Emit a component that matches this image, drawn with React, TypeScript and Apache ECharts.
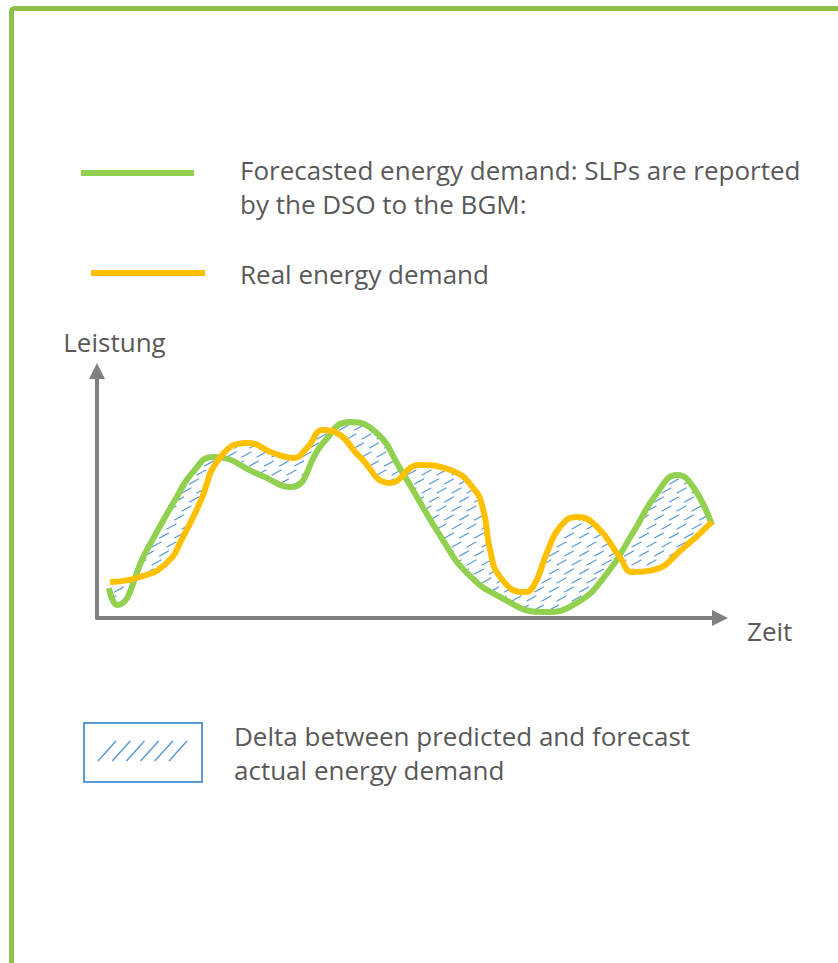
import React, { useEffect, useRef } from "react";
import * as echarts from "echarts";

// ---- data ----
// x: time (0..100), y: power (0..100)
const forecastDemand: [number, number][] = [
  [1.9, 12.1], [3.2, 5.3], [8.0, 27.5], [12.8, 49.0], [15.4, 59.1], [18.6, 65.2],
  [26.2, 57.9], [31.0, 53.0], [36.3, 70.9], [40.6, 79.4], [44.9, 74.9], [48.6, 60.7],
  [55.5, 31.6], [59.4, 18.2], [64.7, 8.5], [71.6, 2.4], [77.0, 6.1], [81.9, 18.2],
  [86.0, 34.4], [89.9, 50.6], [93.1, 57.9], [95.7, 53.0], [98.7, 37.7],
];
const realDemand: [number, number][] = [
  [2.1, 14.6], [6.9, 16.6], [11.2, 22.3], [13.8, 32.8], [16.5, 46.6], [19.7, 64.8],
  [24.1, 70.9], [28.3, 66.8], [31.5, 64.8], [33.7, 68.8], [36.3, 76.1], [38.5, 74.9],
  [42.2, 65.2], [47.0, 54.7], [51.8, 61.9], [56.7, 59.9], [60.4, 52.6], [62.0, 43.7],
  [63.1, 27.5], [64.7, 16.6], [68.4, 10.5], [70.0, 12.6], [72.2, 26.3], [74.3, 36.8],
  [77.0, 40.9], [80.3, 36.8], [83.9, 24.7], [86.0, 18.6], [89.2, 19.4], [94.1, 28.3],
  [98.7, 38.9],
];
const forecastLabel = ["Forecasted energy demand: SLPs are reported", "by the DSO to the BGM:"];
const realLabel = ["Real energy demand"];
const deltaLabel = ["Delta between predicted and forecast", "actual energy demand"];
const xAxisName = "Zeit";
const yAxisName = "Leistung";

const GREEN = "#92D050";
const ORANGE = "#FFC000";
const BLUE = "#5B9BD5";
const GRAY_AXIS = "#808080";
const TEXT = "#595959";
const FONT = "Open Sans";
const SMOOTH = 0.5;

// Same smoothing as ECharts line series (poly.ts), returns cubic segments
function smoothSegments(pts: number[][], smooth: number): number[][] {
  const segs: number[][] = [];
  let prevX = 0, prevY = 0, cpx0 = 0, cpy0 = 0;
  const n = pts.length;
  for (let k = 0; k < n; k++) {
    const x = pts[k][0];
    const y = pts[k][1];
    if (k === 0) {
      cpx0 = x; cpy0 = y;
    } else {
      let cpx1: number, cpy1: number;
      let nextCpx0 = x, nextCpy0 = y;
      if (k + 1 >= n) {
        cpx1 = x; cpy1 = y;
      } else {
        const nextX = pts[k + 1][0];
        const nextY = pts[k + 1][1];
        let vx = nextX - prevX;
        let vy = nextY - prevY;
        const lenPrev = Math.hypot(x - prevX, y - prevY);
        const lenNext = Math.hypot(nextX - x, nextY - y);
        const ratio = lenNext / (lenNext + lenPrev);
        nextCpx0 = x + vx * smooth * ratio;
        nextCpy0 = y + vy * smooth * ratio;
        nextCpx0 = Math.min(nextCpx0, Math.max(nextX, x));
        nextCpy0 = Math.min(nextCpy0, Math.max(nextY, y));
        nextCpx0 = Math.max(nextCpx0, Math.min(nextX, x));
        nextCpy0 = Math.max(nextCpy0, Math.min(nextY, y));
        vx = nextCpx0 - x; vy = nextCpy0 - y;
        cpx1 = x - vx * lenPrev / lenNext;
        cpy1 = y - vy * lenPrev / lenNext;
        cpx1 = Math.min(cpx1, Math.max(prevX, x));
        cpy1 = Math.min(cpy1, Math.max(prevY, y));
        cpx1 = Math.max(cpx1, Math.min(prevX, x));
        cpy1 = Math.max(cpy1, Math.min(prevY, y));
        vx = x - cpx1; vy = y - cpy1;
        nextCpx0 = x + vx * lenNext / lenPrev;
        nextCpy0 = y + vy * lenNext / lenPrev;
      }
      segs.push([prevX, prevY, cpx0, cpy0, cpx1, cpy1, x, y]);
      cpx0 = nextCpx0; cpy0 = nextCpy0;
    }
    prevX = x; prevY = y;
  }
  return segs;
}

const hatchSvg =
  "<svg xmlns='http://www.w3.org/2000/svg' width='15' height='18'>" +
  "<g stroke='" + BLUE + "' stroke-width='1.2' stroke-linecap='round'>" +
  "<line x1='2' y1='7' x2='11' y2='2'/>" +
  "<line x1='9.5' y1='16' x2='18.5' y2='11'/>" +
  "<line x1='-5.5' y1='16' x2='3.5' y2='11'/>" +
  "</g></svg>";

export default function App() {
  const ref = useRef<HTMLDivElement>(null);

  useEffect(() => {
    if (!ref.current) return;
    const chart = echarts.init(ref.current, undefined, { renderer: "svg" });

    const pattern: any = {
      image: "data:image/svg+xml;charset=utf-8," + encodeURIComponent(hatchSvg),
      repeat: "repeat",
      imageWidth: 15,
      imageHeight: 18,
    };

    const textStyle = (text: string, x: number, y: number) => ({
      type: "text",
      x,
      y,
      style: {
        text,
        fill: TEXT,
        fontFamily: FONT,
        fontSize: 26,
        lineHeight: 34,
        verticalAlign: "middle",
        align: "left",
      },
    });

    const deltaHatch: any[] = [];
    for (let i = 0; i < 6; i++) {
      deltaHatch.push({
        type: "line",
        shape: { x1: 98 + i * 14.2, y1: 761, x2: 116 + i * 14.2, y2: 741 },
        style: { stroke: BLUE, lineWidth: 1.5 },
      });
    }

    chart.setOption({
      animation: false,
      grid: { left: 97, right: 118, top: 371, bottom: 345, outerBoundsMode: "none" },
      xAxis: {
        type: "value",
        min: 0,
        max: 100,
        name: xAxisName,
        nameLocation: "end",
        nameGap: 27,
        nameTextStyle: { color: TEXT, fontFamily: FONT, fontSize: 26, verticalAlign: "top", lineHeight: 26 },
        axisLine: {
          show: true,
          symbol: ["none", "triangle"],
          symbolSize: [16, 16],
          lineStyle: { color: GRAY_AXIS, width: 4 },
        },
        axisTick: { show: false },
        axisLabel: { show: false },
        splitLine: { show: false },
      },
      yAxis: {
        type: "value",
        min: 0,
        max: 100,
        name: yAxisName,
        nameLocation: "end",
        nameGap: 16,
        nameTextStyle: { color: TEXT, fontFamily: FONT, fontSize: 26, padding: [0, 0, 0, 35] },
        axisLine: {
          show: true,
          symbol: ["none", "triangle"],
          symbolSize: [16, 16],
          lineStyle: { color: GRAY_AXIS, width: 4 },
        },
        axisTick: { show: false },
        axisLabel: { show: false },
        splitLine: { show: false },
      },
      graphic: [
        {
          type: "rect",
          shape: { x: 11.5, y: 8.5, width: 1000, height: 1100, r: 3 },
          style: { fill: "none", stroke: "#8CC047", lineWidth: 5 },
          silent: true,
        },
        {
          type: "line",
          shape: { x1: 81, y1: 173, x2: 194, y2: 173 },
          style: { stroke: GREEN, lineWidth: 6 },
        },
        textStyle(forecastLabel.join("\n"), 240, 187),
        {
          type: "line",
          shape: { x1: 91, y1: 273, x2: 205, y2: 273 },
          style: { stroke: ORANGE, lineWidth: 6 },
        },
        textStyle(realLabel.join("\n"), 240, 274),
        {
          type: "rect",
          shape: { x: 84, y: 723, width: 118, height: 59 },
          style: { fill: "#fff", stroke: BLUE, lineWidth: 2 },
        },
        ...deltaHatch,
        textStyle(deltaLabel.join("\n"), 234, 752.5),
      ],
      series: [
        {
          type: "custom",
          name: "Delta",
          coordinateSystem: "cartesian2d",
          data: [[50, 50]],
          silent: true,
          renderItem: (_params: any, api: any) => {
            const g = forecastDemand.map((p) => api.coord(p));
            const o = realDemand.map((p) => api.coord(p));
            const gs = smoothSegments(g, SMOOTH);
            const os = smoothSegments(o, SMOOTH);
            let d = `M${g[0][0]} ${g[0][1]}`;
            gs.forEach((s) => {
              d += `C${s[2]} ${s[3]} ${s[4]} ${s[5]} ${s[6]} ${s[7]}`;
            });
            const last = o[o.length - 1];
            d += `L${last[0]} ${last[1]}`;
            for (let i = os.length - 1; i >= 0; i--) {
              const s = os[i];
              d += `C${s[4]} ${s[5]} ${s[2]} ${s[3]} ${s[0]} ${s[1]}`;
            }
            d += "Z";
            return {
              type: "path",
              shape: { pathData: d },
              style: { fill: pattern, stroke: null },
            };
          },
        },
        {
          type: "line",
          name: "Forecasted energy demand",
          data: forecastDemand,
          smooth: SMOOTH,
          symbol: "none",
          lineStyle: { color: GREEN, width: 6 },
          itemStyle: { color: GREEN },
        },
        {
          type: "line",
          name: "Real energy demand",
          data: realDemand,
          smooth: SMOOTH,
          symbol: "none",
          lineStyle: { color: ORANGE, width: 6 },
          itemStyle: { color: ORANGE },
        },
      ],
    });

    return () => chart.dispose();
  }, []);

  return (
    <div
      ref={ref}
      style={{ position: "absolute", left: 0, top: 0, width: 838, height: 963, background: "#fff" }}
    />
  );
}
